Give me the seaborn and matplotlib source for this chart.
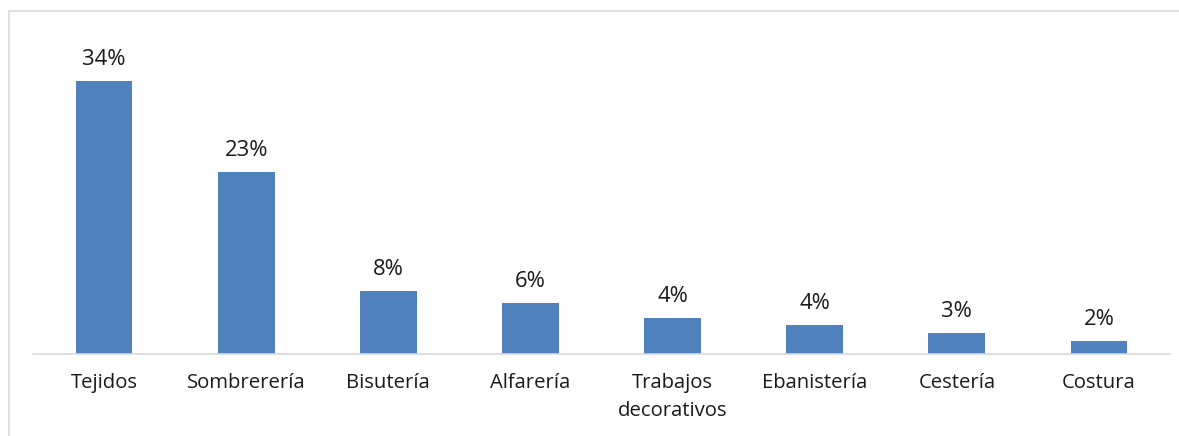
import matplotlib
matplotlib.use("Agg")
import matplotlib.pyplot as plt
import seaborn as sns
import pandas as pd
from matplotlib.patches import Rectangle

categories = ["Tejidos", "Sombrerería", "Bisutería", "Alfarería",
              "Trabajos\ndecorativos", "Ebanistería", "Cestería", "Costura"]
values = [34.0, 22.7, 7.8, 6.3, 4.5, 3.6, 2.6, 1.6]
labels = ["34%", "23%", "8%", "6%", "4%", "4%", "3%", "2%"]

sns.set_theme(style="white")
plt.rcParams["font.family"] = ["Open Sans", "DejaVu Sans"]

W, H = 1179, 436
fig = plt.figure(figsize=(W / 100, H / 100), dpi=100)
ax = fig.add_axes([33 / W, (H - 354) / H, (1170 - 33) / W, (354 - 33) / H])

df = pd.DataFrame({"cat": categories, "val": values})
sns.barplot(data=df, x="cat", y="val", color="#4F81BD", width=0.4,
            saturation=1, ax=ax, edgecolor="none")

ax.set_xlim(-0.5, len(categories) - 0.5)
ax.set_ylim(0, 40)
for s in ["top", "right", "left"]:
    ax.spines[s].set_visible(False)
ax.spines["bottom"].set_color("#d9d9d9")
ax.spines["bottom"].set_linewidth(1.2)
ax.set_yticks([])
ax.set_xlabel("")
ax.set_ylabel("")
ax.tick_params(axis="x", length=0, pad=14, labelsize=14.6, labelcolor="#1a1a1a")
for t in ax.get_xticklabels():
    t.set_verticalalignment("top")
    t.set_linespacing(1.5)

for i, (v, lab) in enumerate(zip(values, labels)):
    ax.annotate(lab, (i, v), xytext=(0, 8), textcoords="offset points",
                ha="center", va="bottom", fontsize=15.8, color="#1a1a1a")

# outer chart frame (partially cut off at right and bottom)
fig.patches.append(Rectangle((9.5 / W, -0.1), 1.2, 1.1 - 11.5 / H,
                             transform=fig.transFigure, fill=False,
                             edgecolor="#d9d9d9", linewidth=1.2))

fig.savefig("out.png", dpi=100, facecolor="white")
